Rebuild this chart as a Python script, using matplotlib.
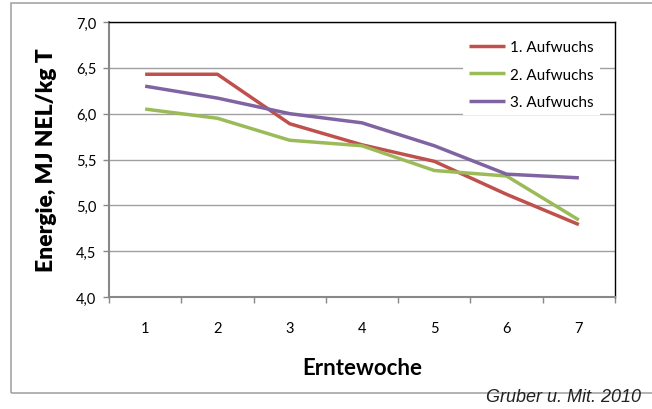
import matplotlib
matplotlib.use("Agg")
import matplotlib.pyplot as plt
from matplotlib.patches import Rectangle
from matplotlib.ticker import FixedLocator, FuncFormatter

weeks = [1, 2, 3, 4, 5, 6, 7]
aufwuchs_1 = [6.43, 6.43, 5.89, 5.66, 5.48, 5.12, 4.79]
aufwuchs_2 = [6.05, 5.95, 5.71, 5.65, 5.38, 5.32, 4.84]
aufwuchs_3 = [6.30, 6.17, 6.00, 5.90, 5.65, 5.34, 5.30]
series_names = ["1. Aufwuchs", "2. Aufwuchs", "3. Aufwuchs"]
colors = ["#C0504D", "#9BBB59", "#8064A2"]
y_ticks = [4.0, 4.5, 5.0, 5.5, 6.0, 6.5, 7.0]

plt.rcParams["font.family"] = ["Lato", "DejaVu Sans"]

fig = plt.figure(figsize=(6.52, 4.10), dpi=100)
W, H = 652, 410

# outer chart border
fig.patches.append(Rectangle((11 / W, (H - 394) / H), 700 / W, 390 / H,
                             transform=fig.transFigure, fill=False,
                             edgecolor="#A6A6A6", linewidth=1.2))

ax = fig.add_axes([109 / W, (H - 298) / H, 506 / W, 275 / H])

for vals, name, c in zip([aufwuchs_1, aufwuchs_2, aufwuchs_3], series_names, colors):
    ax.plot(weeks, vals, color=c, linewidth=2.5, label=name, solid_capstyle="butt")

ax.set_xlim(0.5, 7.5)
ax.set_ylim(4.0, 7.0)
ax.set_xticks(weeks)
ax.xaxis.set_minor_locator(FixedLocator([x + 0.5 for x in range(0, 8)]))
ax.tick_params(axis="x", which="major", length=0, pad=17, labelsize=10.5)
ax.tick_params(axis="x", which="minor", length=4, color="#888888", width=1)
ax.set_yticks(y_ticks)
ax.yaxis.set_major_formatter(FuncFormatter(lambda v, p: f"{v:.1f}".replace(".", ",")))
ax.tick_params(axis="y", length=4, color="#888888", width=1, labelsize=10.5, pad=5)

ax.grid(axis="y", color="#A0A0A0", linewidth=1)
ax.set_axisbelow(True)

ax.spines["top"].set_color("black")
ax.spines["right"].set_color("black")
ax.spines["top"].set_linewidth(1)
ax.spines["right"].set_linewidth(1)
ax.spines["left"].set_color("#888888")
ax.spines["bottom"].set_color("#888888")
ax.spines["left"].set_linewidth(1.5)
ax.spines["bottom"].set_linewidth(1.5)

ax.set_xlabel("Erntewoche", fontsize=16, fontweight="bold", labelpad=16)
ax.set_ylabel("Energie, MJ NEL/kg T", fontsize=16.5, fontweight="heavy", labelpad=14)

leg = ax.legend(loc="upper right", bbox_to_anchor=(0.985, 0.985), fontsize=11,
                frameon=True, fancybox=False, handlelength=2.4,
                handletextpad=0.3, labelspacing=0.9, borderpad=0.4)
leg.get_frame().set_edgecolor("none")
leg.get_frame().set_facecolor("white")
leg.get_frame().set_alpha(1)

fig.text(641 / W, (H - 398) / H, "Gruber u. Mit. 2010", ha="right", va="center",
         fontsize=13, style="italic", family="Liberation Sans", color="#222222")

fig.savefig("out.png", dpi=100)
